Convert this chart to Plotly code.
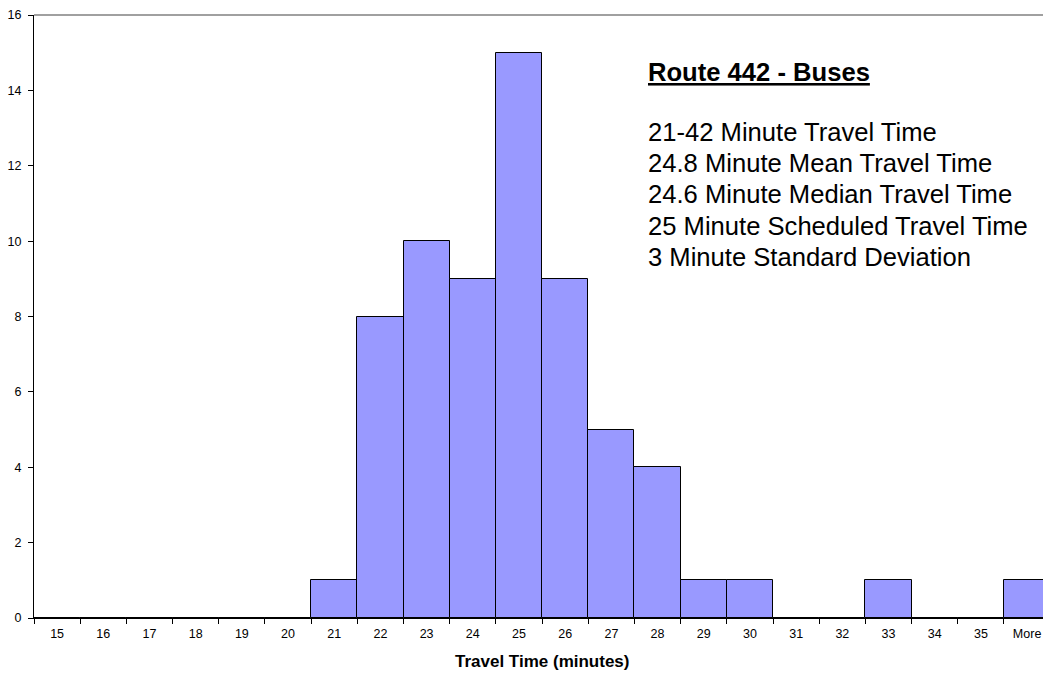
import plotly.graph_objects as go

# Frequency of observed travel times, one bin per minute
bins = ["15", "16", "17", "18", "19", "20", "21", "22", "23", "24", "25",
        "26", "27", "28", "29", "30", "31", "32", "33", "34", "35", "More"]
counts = [0, 0, 0, 0, 0, 0, 1, 8, 10, 9, 15, 9, 5, 4, 1, 1, 0, 0, 1, 0, 0, 1]

y_ticks = [0, 2, 4, 6, 8, 10, 12, 14, 16]

summary_title = "Route 442 - Buses"
summary_lines = [
    "21-42 Minute Travel Time",
    "24.8 Minute Mean Travel Time",
    "24.6 Minute Median Travel Time",
    "25 Minute Scheduled Travel Time",
    "3 Minute Standard Deviation",
]

FONT = "Arial, 'Liberation Sans', sans-serif"
W, H = 1043, 673
M_L, M_R, M_T, M_B = 34, 0, 15, 55
plot_h = H - M_T - M_B
plot_w = W - M_L - M_R


def py(pixel_y):
    """Convert a pixel row to paper y."""
    return (H - M_B - pixel_y) / plot_h


def px(pixel_x):
    """Convert a pixel column to paper x."""
    return (pixel_x - M_L) / plot_w


fig = go.Figure(
    go.Bar(
        x=bins,
        y=counts,
        marker=dict(color="#9999FF", line=dict(color="#000000", width=1)),
        hoverinfo="x+y",
    )
)

# Bin width in pixels; the last bin runs slightly past the right edge
bin_px = 46.19
fig.update_layout(
    width=W,
    height=H,
    margin=dict(l=M_L, r=M_R, t=M_T, b=M_B, pad=0),
    paper_bgcolor="white",
    plot_bgcolor="white",
    bargap=0,
    showlegend=False,
    font=dict(family=FONT, color="#000000"),
    xaxis=dict(
        type="category",
        categoryorder="array",
        categoryarray=bins,
        range=[-0.5, -0.5 + plot_w / bin_px],
        showgrid=False,
        zeroline=False,
        showline=True,
        linecolor="#000000",
        linewidth=1,
        ticks="outside",
        tickson="boundaries",
        ticklen=5,
        tickcolor="#000000",
        tickwidth=1,
        tickfont=dict(size=12.5, family=FONT, color="#000000"),
        ticklabelstandoff=4,
    ),
    yaxis=dict(
        range=[0, 16],
        tickvals=y_ticks,
        showgrid=False,
        zeroline=False,
        showline=True,
        linecolor="#000000",
        linewidth=1,
        ticks="outside",
        ticklen=5,
        tickcolor="#000000",
        tickwidth=1,
        tickfont=dict(size=12.5, family=FONT, color="#000000"),
        ticklabelstandoff=4,
    ),
)

# Gray plot-area border along the top
fig.add_shape(type="line", xref="paper", yref="paper", x0=0, x1=1, y0=1, y1=1,
              line=dict(color="#808080", width=1.5))

# X axis title
fig.add_annotation(
    text="<b>Travel Time (minutes)</b>",
    xref="x", yref="paper", x=(len(bins) - 1) / 2, y=py(661),
    xanchor="center", yanchor="middle", showarrow=False,
    font=dict(size=17, family=FONT, color="#000000"),
)

# Summary statistics text box
fig.add_annotation(
    text="<b><u>" + summary_title + "</u></b>",
    xref="paper", yref="paper", x=px(646), y=py(72),
    xanchor="left", yanchor="middle", showarrow=False,
    font=dict(size=25.6, family=FONT, color="#000000"),
)
for i, line in enumerate(summary_lines):
    fig.add_annotation(
        text=line,
        xref="paper", yref="paper", x=px(646), y=py(132 + 31.2 * i),
        xanchor="left", yanchor="middle", showarrow=False,
        font=dict(size=25.6, family=FONT, color="#000000"),
    )

fig.write_html("out.html")
